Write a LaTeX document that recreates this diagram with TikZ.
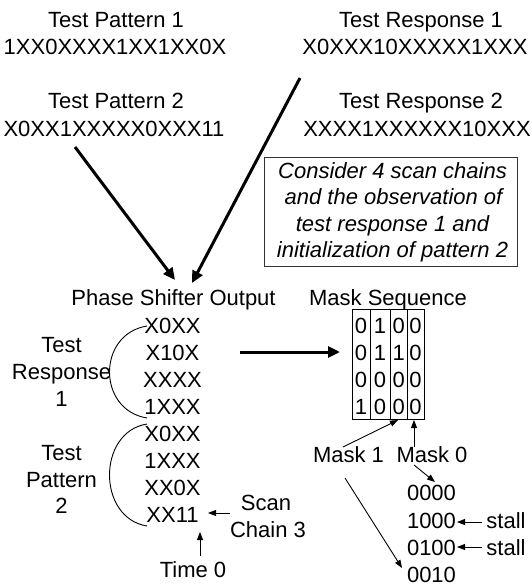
\documentclass[tikz,border=0pt]{standalone}
\usepackage{fontspec}
\setmainfont{Liberation Sans}
\usetikzlibrary{arrows.meta}
\begin{document}
\begin{tikzpicture}[x=1pt,y=-1pt,
  txt/.style={anchor=base,inner sep=0pt,font=\fontsize{22}{26}\selectfont},
  itxt/.style={anchor=base,inner sep=0pt,font=\fontsize{22}{26}\selectfont\itshape},
  bigarrow/.style={line width=3pt,-{Triangle[length=12pt,width=11pt]}},
  thinarrow/.style={line width=0.9pt,-{Triangle[length=8pt,width=6pt]}},
  gridline/.style={line width=0.9pt},
  brace/.style={line width=0.9pt}]
\useasboundingbox (0,0) rectangle (531,587);

% top texts
\node[txt] (tp1) at (116,27) {Test Pattern 1};
\node[txt] (tp1s) at (115,54) {1XX0XXXX1XX1XX0X};
\node[txt] (tp2) at (116,108) {Test Pattern 2};
\node[txt] (tp2s) at (114,136) {X0XX1XXXXX0XXX11};
\node[txt] (tr1) at (421,27) {Test Response 1};
\node[txt] (tr1s) at (415,54) {X0XXX10XXXXX1XXX};
\node[txt] (tr2) at (421,108) {Test Response 2};
\node[txt] (tr2s) at (417,136) {XXXX1XXXXXX10XXX};

% note box
\draw[line width=0.9pt,black!80] (264,157) rectangle (517,266);
\node[itxt] (n1) at (392.5,178) {Consider 4 scan chains};
\node[itxt] (n2) at (393.5,204.5) {and the observation of};
\node[itxt] (n3) at (392.5,231) {test response 1 and};
\node[itxt] (n4) at (392.5,257.5) {initialization of pattern 2};

% big arrows
\coordinate (a1s) at (75,147);
\coordinate (a1e) at (175,280);
\coordinate (a2s) at (300,78);
\coordinate (a2e) at (192,283);
\coordinate (a3s) at (240,352);
\coordinate (a3e) at (340,352);
\draw[bigarrow] (a1s) -- (a1e);
\draw[bigarrow] (a2s) -- (a2e);
\draw[bigarrow] (a3s) -- (a3e);

% headings
\node[txt] (pso) at (173.5,305) {Phase Shifter Output};
\node[txt] (ms) at (388,305) {Mask Sequence};

% phase shifter column
\node[txt] (c1) at (172.5,333) {X0XX};
\node[txt] (c2) at (172.5,360) {X10X};
\node[txt] (c3) at (172.5,387) {XXXX};
\node[txt] (c4) at (172.5,414) {1XXX};
\node[txt] (c5) at (172.5,441) {X0XX};
\node[txt] (c6) at (172.5,468) {1XXX};
\node[txt] (c7) at (172.5,495) {XX0X};
\node[txt] (c8) at (172.5,522) {XX11};

% braces
\draw[brace] (147,326) .. controls (97,334) and (97,410) .. (147,418);
\draw[brace] (147,424) .. controls (97,432) and (97,518) .. (147,526);

% left labels
\node[txt] (l1) at (61.5,352) {Test};
\node[txt] (l2) at (61.5,379) {Response};
\node[txt] (l3) at (61.5,406) {1};
\node[txt] (l4) at (61.5,460) {Test};
\node[txt] (l5) at (61.5,487) {Pattern};
\node[txt] (l6) at (61.5,513) {2};

% scan chain 3 and time 0
\node[txt] (sc1) at (266,510) {Scan};
\node[txt] (sc2) at (268,537) {Chain 3};
\coordinate (sca) at (230,513);
\coordinate (scb) at (208,513);
\draw[thinarrow] (sca) -- (scb);
\node[txt] (t0) at (193,577) {Time 0};
\coordinate (t0a) at (200,556);
\coordinate (t0b) at (200,532);
\draw[thinarrow] (t0a) -- (t0b);

% mask grid
\draw[gridline] (352.7,309.3) rectangle (424,419.3);
\draw[gridline] (370,309.3) -- (370,419.3);
\draw[gridline] (390.3,309.3) -- (390.3,419.3);
\draw[gridline] (407,309.3) -- (407,419.3);
\foreach \r/\y in {1/333,2/360,3/387,4/414}{
}
\node[txt] (g11) at (361,333) {0};
\node[txt] (g12) at (380,333) {1};
\node[txt] (g13) at (398.7,333) {0};
\node[txt] (g14) at (415.5,333) {0};
\node[txt] (g21) at (361,360) {0};
\node[txt] (g22) at (380,360) {1};
\node[txt] (g23) at (398.7,360) {1};
\node[txt] (g24) at (415.5,360) {0};
\node[txt] (g31) at (361,387) {0};
\node[txt] (g32) at (380,387) {0};
\node[txt] (g33) at (398.7,387) {0};
\node[txt] (g34) at (415.5,387) {0};
\node[txt] (g41) at (361,414) {1};
\node[txt] (g42) at (380,414) {0};
\node[txt] (g43) at (398.7,414) {0};
\node[txt] (g44) at (415.5,414) {0};

% mask labels
\node[txt] (m1) at (348.5,462) {Mask 1};
\node[txt] (m0) at (432,462) {Mask 0};
\coordinate (m1a) at (343,447);
\coordinate (m1b) at (398,420);
\coordinate (m0a) at (414,447);
\coordinate (m0b) at (414,420);
\draw[thinarrow] (m1a) -- (m1b);
\draw[thinarrow] (m0a) -- (m0b);

% sequence
\node[txt] (s0) at (431.5,500) {0000};
\node[txt] (s1) at (431.5,528) {1000};
\node[txt] (s2) at (431.5,555) {0100};
\node[txt] (s3) at (431.5,582) {0010};
\coordinate (m0c) at (414,465);
\coordinate (m0d) at (435,482);
\draw[thinarrow] (m0c) -- (m0d);
\coordinate (m1c) at (345,478);
\coordinate (m1d) at (402,568);
\draw[thinarrow] (m1c) -- (m1d);

% stall
\node[txt] (st1) at (506,528) {stall};
\node[txt] (st2) at (506,555) {stall};
\coordinate (st1a) at (482,522);
\coordinate (st1b) at (457,522);
\coordinate (st2a) at (482,547);
\coordinate (st2b) at (457,547);
\draw[thinarrow] (st1a) -- (st1b);
\draw[thinarrow] (st2a) -- (st2b);
\end{tikzpicture}
\end{document}
